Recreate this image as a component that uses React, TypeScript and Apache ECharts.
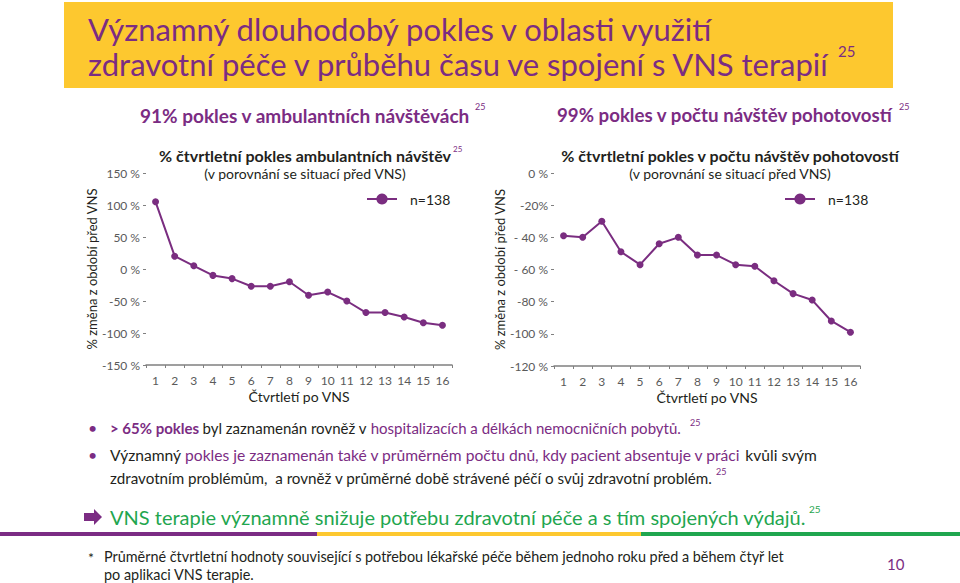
import React, { useEffect, useRef } from "react";
import * as echarts from "echarts";

const quarters = ["1", "2", "3", "4", "5", "6", "7", "8", "9", "10", "11", "12", "13", "14", "15", "16"];
const outpatientChange = [105, 20, 5, -10, -15, -27, -27, -20, -41, -36, -50, -68, -68, -75, -84, -88];
const erChange = [-39, -40, -30, -49, -57, -44, -40, -51, -51, -57, -58, -67, -75, -79, -92, -99];
const leftTickLabels: Record<string, string> = {
  "150": "150 %", "100": "100 %", "50": "50 %", "0": "0 %", "-50": "-50 %", "-100": "-100 %", "-150": "-150 %",
};
const rightTickLabels: Record<string, string> = {
  "0": "0 %", "-20": "-20%", "-40": "- 40 %", "-60": "- 60 %", "-80": "-80 %", "-100": "-100 %", "-120": "-120 %",
};
const seriesName = "n=138";

const PURPLE = "#7B2C83";
const LINE = "#7A2D80";
const DARK = "#231F20";
const GRAY = "#5a5a5a";
const AXIS = "#808080";
const YELLOW = "#FDC82F";
const GREEN = "#1FA64F";
const FONT = "Lato, 'Noto Sans', sans-serif";

export default function App() {
  const ref = useRef<HTMLDivElement>(null);
  useEffect(() => {
    if (!ref.current) return;
    const chart = echarts.init(ref.current, undefined, { renderer: "svg" });
    const axisLine = { onZero: false, lineStyle: { color: AXIS, width: 1.5 } };
    const xAxisBase = (gridIndex: number) => ({
      type: "category",
      gridIndex,
      data: quarters,
      axisLine,
      splitLine: { show: false },
      axisTick: { show: true, alignWithLabel: false, length: 3, lineStyle: { color: AXIS } },
      axisLabel: { color: GRAY, fontSize: 12, margin: 9, fontFamily: FONT },
      name: "Čtvrtletí po VNS",
      nameLocation: "middle",
      nameGap: 24,
      nameTextStyle: { color: DARK, fontSize: 14, fontFamily: FONT },
    });
    const lineSeries = (idx: number, data: number[]) => ({
      type: "line",
      name: seriesName,
      xAxisIndex: idx,
      yAxisIndex: idx,
      data,
      symbol: "circle",
      symbolSize: 7,
      lineStyle: { color: LINE, width: 2 },
      itemStyle: { color: LINE },
    });
    const sup = (x: number, y: number, size = 9, fill = PURPLE) => ({
      type: "text",
      x,
      y,
      style: { text: "25", fill, fontSize: size, fontFamily: FONT, verticalAlign: "middle" },
    });
    const titleBase = {
      top: 147,
      textAlign: "center",
      itemGap: 3,
      padding: 0,
      textStyle: { color: DARK, fontSize: 16, fontWeight: "bold", fontFamily: FONT },
      subtextStyle: { color: DARK, fontSize: 14, fontFamily: FONT },
    };
    const legendBase = {
      top: 192,
      padding: 0,
      itemWidth: 30,
      itemHeight: 14,
      data: [seriesName],
      textStyle: { color: DARK, fontSize: 14, fontFamily: FONT, padding: [0, 0, 0, 8] },
    };
    const yAxisBase = (gridIndex: number, min: number, max: number, interval: number, labels: Record<string, string>) => ({
      type: "value",
      gridIndex,
      min,
      max,
      interval,
      axisLine,
      splitLine: { show: false },
      axisTick: { show: true, length: 3, lineStyle: { color: AXIS } },
      axisLabel: { color: GRAY, fontSize: 12, margin: 6, fontFamily: FONT, formatter: (v: number) => labels[String(v)] ?? "" },
      name: "% změna z období před VNS",
      nameLocation: "middle",
      nameRotate: 90,
      nameGap: 47,
      nameTextStyle: { color: DARK, fontSize: 13, fontFamily: FONT },
    });
    const option: any = {
      animation: false,
      textStyle: { fontFamily: FONT },
      title: [
        { ...titleBase, text: "% čtvrtletní pokles ambulantních návštěv", subtext: "(v porovnání se situací před VNS)", left: 305 },
        { ...titleBase, text: "% čtvrtletní pokles v počtu návštěv pohotovostí", subtext: "(v porovnání se situací před VNS)", left: 730 },
      ],
      legend: [
        { ...legendBase, left: 366 },
        { ...legendBase, left: 784 },
      ],
      grid: [
        { left: 146, top: 173, width: 306, height: 192 },
        { left: 554, top: 173, width: 306, height: 193 },
      ],
      xAxis: [xAxisBase(0), xAxisBase(1)],
      yAxis: [
        yAxisBase(0, -150, 150, 50, leftTickLabels),
        yAxisBase(1, -120, 0, 20, rightTickLabels),
      ],
      series: [lineSeries(0, outpatientChange), lineSeries(1, erChange)],
      graphic: [
        { type: "rect", shape: { x: 64, y: 2, width: 829, height: 86 }, style: { fill: YELLOW } },
        {
          type: "text",
          x: 88,
          y: 29,
          style: { text: "Významný dlouhodobý pokles v oblasti využití", fill: PURPLE, fontSize: 31, fontFamily: FONT, verticalAlign: "middle" },
        },
        {
          type: "text",
          x: 88,
          y: 64,
          style: { text: "zdravotní péče v průběhu času ve spojení s VNS terapií", fill: PURPLE, fontSize: 31, fontFamily: FONT, verticalAlign: "middle" },
        },
        sup(838, 51, 15),
        {
          type: "text",
          x: 140,
          y: 115,
          style: { text: "91% pokles v ambulantních návštěvách", fill: PURPLE, fontSize: 19, fontWeight: "bold", fontFamily: FONT, verticalAlign: "middle" },
        },
        sup(475, 106, 9),
        {
          type: "text",
          x: 557,
          y: 115,
          style: { text: "99% pokles v počtu návštěv pohotovostí", fill: PURPLE, fontSize: 18.7, fontWeight: "bold", fontFamily: FONT, verticalAlign: "middle" },
        },
        sup(899, 106, 9),
        sup(453, 149, 8),
        // bullets
        { type: "text", x: 88, y: 427, style: { text: "•", fill: PURPLE, fontSize: 16, fontFamily: FONT, verticalAlign: "middle" } },
        { type: "text", x: 88, y: 454, style: { text: "•", fill: PURPLE, fontSize: 16, fontFamily: FONT, verticalAlign: "middle" } },
        {
          type: "text",
          x: 110,
          y: 428,
          style: {
            text: "{b|> 65% pokles} {d|byl zaznamenán rovněž v }{p|hospitalizacích a délkách nemocničních pobytů.}",
            verticalAlign: "middle",
            rich: {
              b: { fill: PURPLE, fontWeight: "bold", fontSize: 15, fontFamily: FONT },
              d: { fill: DARK, fontSize: 15, fontFamily: FONT },
              p: { fill: PURPLE, fontSize: 15, fontFamily: FONT },
            },
          },
        },
        sup(690, 422, 9),
        {
          type: "text",
          x: 110,
          y: 455,
          style: {
            text: "{d|Významný }{p|pokles je zaznamenán také v průměrném počtu dnů, kdy pacient absentuje v práci}{d| kvůli svým}",
            verticalAlign: "middle",
            rich: {
              d: { fill: DARK, fontSize: 15.6, fontFamily: FONT },
              p: { fill: PURPLE, fontSize: 15.6, fontFamily: FONT },
            },
          },
        },
        {
          type: "text",
          x: 110,
          y: 478,
          style: { text: "zdravotním problémům,  a rovněž v průměrné době strávené péčí o svůj zdravotní problém.", fill: DARK, fontSize: 15.2, fontFamily: FONT, verticalAlign: "middle" },
        },
        sup(716, 471, 9),
        // arrow
        {
          type: "polygon",
          shape: { points: [[84, 513], [94, 513], [94, 509], [102, 517], [94, 525], [94, 521], [84, 521]] },
          style: { fill: PURPLE },
        },
        {
          type: "text",
          x: 110,
          y: 517,
          style: { text: "VNS terapie významně snižuje potřebu zdravotní péče a s tím spojených výdajů.", fill: GREEN, fontSize: 20, fontFamily: FONT, verticalAlign: "middle" },
        },
        sup(809, 509, 10, GREEN),
        // divider
        { type: "rect", shape: { x: 0, y: 532, width: 317, height: 4 }, style: { fill: "#7B2C84" } },
        { type: "rect", shape: { x: 317, y: 532, width: 324, height: 4 }, style: { fill: YELLOW } },
        { type: "rect", shape: { x: 641, y: 532, width: 319, height: 4 }, style: { fill: GREEN } },
        // footnote
        { type: "text", x: 88, y: 557, style: { text: "*", fill: DARK, fontSize: 14, fontFamily: FONT, verticalAlign: "middle" } },
        {
          type: "text",
          x: 104,
          y: 556,
          style: { text: "Průměrné čtvrtletní hodnoty související s potřebou lékařské péče během jednoho roku před a během čtyř let", fill: DARK, fontSize: 14.4, fontFamily: FONT, verticalAlign: "middle" },
        },
        {
          type: "text",
          x: 104,
          y: 574,
          style: { text: "po aplikaci VNS terapie.", fill: DARK, fontSize: 14.4, fontFamily: FONT, verticalAlign: "middle" },
        },
        { type: "text", x: 887, y: 564, style: { text: "10", fill: PURPLE, fontSize: 15, fontFamily: FONT, verticalAlign: "middle" } },
      ],
    };
    chart.setOption(option);
    return () => chart.dispose();
  }, []);
  return <div ref={ref} style={{ position: "fixed", left: 0, top: 0, width: 960, height: 583, background: "#fff" }} />;
}
